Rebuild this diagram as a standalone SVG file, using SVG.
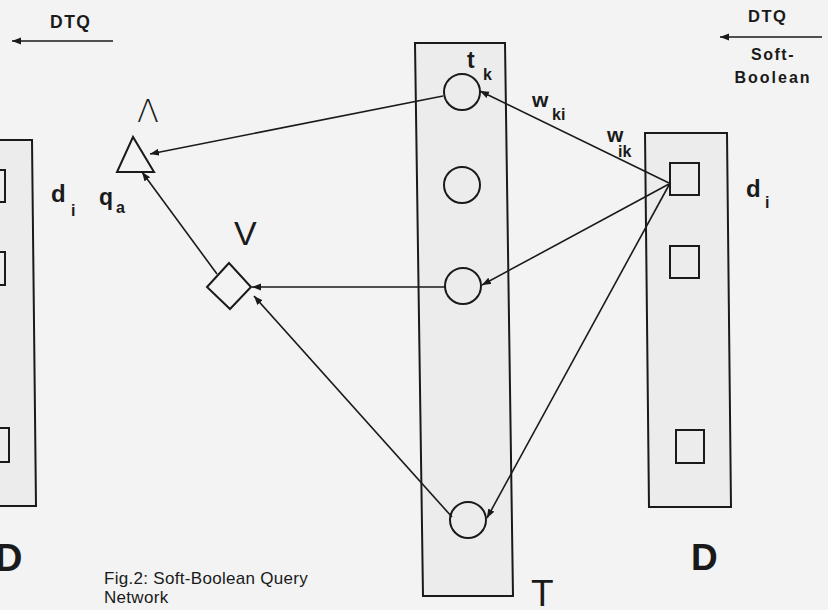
<svg xmlns="http://www.w3.org/2000/svg" width="828" height="610" viewBox="0 0 828 610">
<defs>
<marker id="ah" markerUnits="userSpaceOnUse" markerWidth="10" markerHeight="8" refX="9" refY="3.5" orient="auto">
<path d="M0,0 L9,3.5 L0,7 z" fill="#1a1a1a"/>
</marker>
<style>
.box{fill:#ececec;stroke:#1a1a1a;stroke-width:2}
.nd{fill:none;stroke:#1a1a1a;stroke-width:2}
.cn{fill:none;stroke:#1a1a1a;stroke-width:1.6;marker-end:url(#ah)}
.lb{font-family:"Liberation Sans",Arial,sans-serif;font-weight:bold;fill:#1a1a1a}
.op{font-family:"Liberation Sans",Arial,sans-serif;font-weight:normal;fill:#1a1a1a}
</style>
</defs>
<rect x="0" y="0" width="828" height="610" fill="#f3f3f3"/>

<g id="legend-left">
<text class="lb" x="50" y="28" font-size="17.5" letter-spacing="1.5">DTQ</text>
<line class="cn" x1="113" y1="41" x2="12" y2="41"/>
</g>
<g id="legend-right">
<text class="lb" x="748" y="22" font-size="16.5" letter-spacing="1.5">DTQ</text>
<line class="cn" x1="822" y1="37" x2="720" y2="37"/>
<text class="lb" x="773" y="60" font-size="16" letter-spacing="1.5" text-anchor="middle">Soft-</text>
<text class="lb" x="773" y="83" font-size="16" letter-spacing="2" text-anchor="middle">Boolean</text>
</g>

<g id="D-left">
<polygon class="box" points="-5,140 32,140 36,506 -5,506"/>
<rect class="nd" x="-20" y="170" width="25" height="32"/>
<rect class="nd" x="-20" y="252" width="25" height="33"/>
<rect class="nd" x="-20" y="428" width="29" height="34"/>
<text class="lb" x="-5" y="571" font-size="38">D</text>
<text class="lb" x="51" y="202" font-size="24">d</text>
<text class="lb" x="71" y="216" font-size="16">i</text>
</g>

<g id="T">
<polygon class="box" points="415,43 505,43 513,596 423,596"/>
<text class="op" x="531" y="606" font-size="37">T</text>
</g>
<g id="t1"><circle class="nd" cx="462" cy="92" r="18"/>
<text class="lb" x="467" y="68" font-size="23">t</text>
<text class="lb" x="483" y="80" font-size="16">k</text></g>
<g id="t2"><circle class="nd" cx="462" cy="185" r="18"/></g>
<g id="t3"><circle class="nd" cx="463" cy="286" r="18"/></g>
<g id="t4"><circle class="nd" cx="468" cy="520" r="18"/></g>

<g id="D-right">
<polygon class="box" points="645,133 727,133 731,507 649,507"/>
<text class="lb" x="691" y="570" font-size="37">D</text>
</g>
<g id="d1"><rect class="nd" x="670" y="163" width="29" height="32"/>
<text class="lb" x="746" y="197" font-size="24">d</text>
<text class="lb" x="765" y="208" font-size="16">i</text></g>
<g id="d2"><rect class="nd" x="670" y="246" width="29" height="32"/></g>
<g id="d3"><rect class="nd" x="676" y="430" width="28" height="33"/></g>

<g id="and">
<polygon class="nd" points="133,137 117,172 154,172" stroke-width="1.8"/>
<text class="op" x="137" y="122" font-size="32" style="font-family:'DejaVu Sans',sans-serif;font-weight:200">Λ</text>
<text class="lb" x="99" y="205" font-size="23">q</text>
<text class="lb" x="116" y="213" font-size="16">a</text>
</g>
<g id="or">
<polygon class="nd" points="229,263 207,287 230,309 251,287" stroke-width="1.8"/>
<text class="op" x="234" y="245" font-size="34">V</text>
</g>

<g id="connectors">
<line class="cn" x1="443" y1="96" x2="150" y2="154"/>
<line class="cn" x1="217" y1="274" x2="142" y2="172"/>
<line class="cn" x1="445" y1="287" x2="252" y2="287"/>
<line class="cn" x1="452" y1="517" x2="254" y2="296"/>
<line class="cn" x1="669" y1="183" x2="480" y2="91"/>
<line class="cn" x1="669" y1="184" x2="482" y2="285"/>
<line class="cn" x1="669" y1="185" x2="487" y2="518"/>
</g>
<g id="weights">
<text class="lb" x="532" y="107" font-size="21">w</text>
<text class="lb" x="552" y="120" font-size="16">ki</text>
<text class="lb" x="607" y="142" font-size="21">w</text>
<text class="lb" x="618" y="157" font-size="16">ik</text>
</g>

<g id="caption">
<text class="op" x="104" y="584" font-size="17" letter-spacing="0.3">Fig.2: Soft-Boolean Query</text>
<text class="op" x="104" y="603" font-size="17" letter-spacing="0.3">Network</text>
</g>
</svg>
